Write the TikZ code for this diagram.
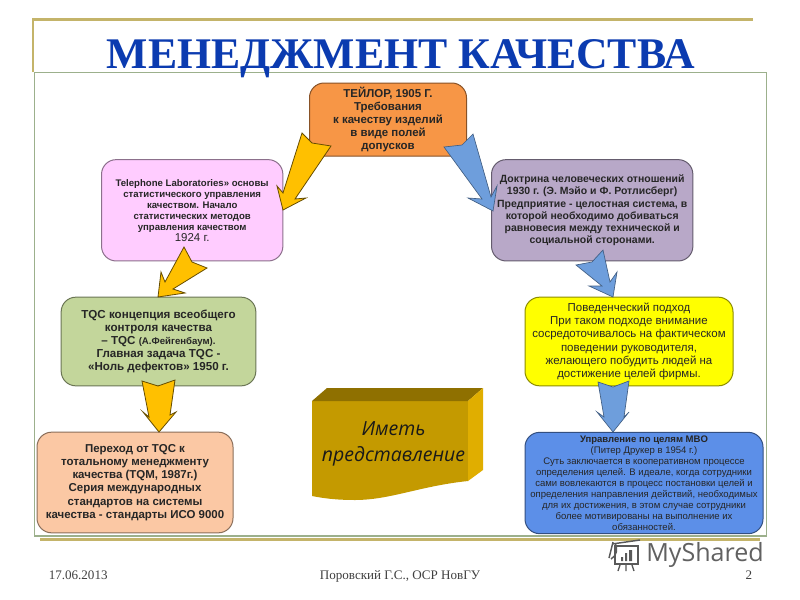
\documentclass[tikz,border=0pt]{standalone}
\usepackage{fontspec}
\setmainfont{Liberation Sans}
\newfontfamily\serifru{Liberation Serif}
\newfontfamily\handru{Open Sans}
\newcommand\fsz[2]{\fontsize{#1}{#2}\selectfont}
\definecolor{cOrange}{HTML}{F79646}
\definecolor{cPink}{HTML}{FFCCFF}
\definecolor{cPurple}{HTML}{B8A8C8}
\definecolor{cGreen}{HTML}{C3D69B}
\definecolor{cYellow}{HTML}{FFFF00}
\definecolor{cPeach}{HTML}{FBC8A4}
\definecolor{cBlue}{HTML}{5C8FE8}
\definecolor{cArrY}{HTML}{FFC000}
\definecolor{cArrB}{HTML}{6E9EDC}
\definecolor{cFrame}{HTML}{9CB08C}
\definecolor{cGold}{HTML}{C4B46A}
\definecolor{cTitle}{HTML}{0B3BB0}
\definecolor{cBlkF}{HTML}{C49A00}
\definecolor{cBlkT}{HTML}{8F7000}
\definecolor{cBlkR}{HTML}{E0AE00}
\tikzset{
  box/.style={draw=#1!55!black,line width=.75pt,rounded corners=11pt,inner sep=0pt,align=center,text=black!85,fill=#1},
  yarrow/.style={fill=cArrY,draw=black!60!cArrY,line width=.6pt,line join=miter},
  barrow/.style={fill=cArrB,draw=black!40!cArrB,line width=.5pt,line join=miter},
  foot/.style={inner sep=0pt,text=black!75,anchor=base,font=\serifru\fsz{9.8}{11}},
}
\begin{document}
\begin{tikzpicture}[x=.75pt,y=-.75pt]
\useasboundingbox (0,0) rectangle (800,600);
\fill[white] (0,0) rectangle (800,600);
% frames
\draw[cFrame,line width=.9pt] (34.5,72.5) rectangle (766.5,536);
\draw[cGold,line width=1.6pt] (33,72) -- (33,19.5) -- (753,19.5);
\draw[cGold,line width=1.8pt] (40,539.5) -- (760,539.5);
\node[inner sep=0pt,anchor=base,text=cTitle,font=\serifru\bfseries\fsz{32.8}{36}] (title) at (401,68) {МЕНЕДЖМЕНТ КАЧЕСТВА};
% boxes
\node[box=cOrange,minimum width=117.75pt,minimum height=54.75pt,font=\bfseries\fsz{8.6}{9.75}] (taylor) at (388,119.5)
 {ТЕЙЛОР, 1905 Г.\\Требования\\к качеству изделий\\в виде полей\\допусков};
\node[box=cPink,minimum width=136pt,minimum height=76pt,font=\bfseries\fsz{7.2}{8.25}] (tel) at (192.2,210.3)
 {Telephone Laboratories» основы\\статистического управления\\качеством. Начало\\статистических методов\\управления качеством\\{\mdseries\fsz{8.6}{9.5}1924 г.}};
\node[box=cPurple,minimum width=151pt,minimum height=76pt,font=\bfseries\fsz{7.85}{9.1}] (doc) at (592.2,210.3)
 {Доктрина человеческих отношений\\1930 г. (Э. Мэйо и Ф. Ротлисберг)\\Предприятие - целостная система, в\\которой необходимо добиваться\\равновесия между технической и\\социальной сторонами.};
\node[box=cGreen,minimum width=146pt,minimum height=66.5pt,font=\bfseries\fsz{8.7}{9.75}] (tqc) at (158.5,341.5)
 {TQC концепция всеобщего\\контроля качества\\– TQC {\fsz{7.2}{9.75}(А.Фейгенбаум).}\\Главная задача TQC -\\«Ноль дефектов» 1950 г.};
\node[box=cYellow,minimum width=156pt,minimum height=66.5pt,font=\fsz{8.6}{9.9}] (beh) at (629,341.5)
 {Поведенческий подход\\При таком подходе внимание\\сосредоточивалось на фактическом\\поведении руководителя,\\желающего побудить людей на\\достижение целей фирмы.};
\node[box=cPeach,minimum width=147pt,minimum height=75.5pt,font=\bfseries\fsz{8.6}{9.9}] (tqm) at (135,482.5)
 {Переход от TQC  к\\тотальному менеджменту\\качества (TQM, 1987г.)\\Серия международных\\стандартов на системы\\качества - стандарты ИСО 9000};
\node[box=cBlue,minimum width=178.5pt,minimum height=76pt,font=\fsz{7.15}{8.25}] (mbo) at (644,483)
 {{\bfseries Управление по целям MBO}\\(Питер Друкер в 1954 г.)\\Суть  заключается в кооперативном процессе\\определения целей.  В идеале, когда сотрудники\\сами вовлекаются в процесс постановки целей и\\определения направления действий, необходимых\\для их достижения, в этом случае сотрудники\\более мотивированы на выполнение их\\обязанностей.};
% block arrows
\path[yarrow] (302,133) -- (312,143) -- (331,146) -- (295,199) -- (306,198) -- (283,210) -- (277,186) -- (283,193) -- cycle;
\path[yarrow] (184,247) -- (192,262) -- (207,268) -- (173,289) -- (185,293) -- (158,297) -- (161,272) -- (165,282) -- cycle;
\path[yarrow] (142,381) -- (158,386) -- (175,380) -- (170,415) -- (176,412) -- (159,432) -- (143,412) -- (149,417) -- cycle;
\path[barrow] (473,134) -- (491,197) -- (497,186) -- (493,211) -- (468,198) -- (482,199) -- (444,147) -- (462,145) -- cycle;
\path[barrow] (603,250) -- (610,282) -- (617,272) -- (613,297) -- (589,286) -- (602,286) -- (576,265) -- (592,262) -- cycle;
\path[barrow] (598,382) -- (613,387) -- (629,381) -- (624,417) -- (629,412) -- (613,432) -- (597,412) -- (604,417) -- cycle;
% gold block
\fill[cBlkF] (312,401) -- (468,401) -- (468,481) .. controls (420,486) and (390,500) .. (355,500) .. controls (335,500) and (322,498) .. (312,496) -- cycle;
\fill[cBlkT] (312,401) -- (327,388) -- (483,388) -- (468,401) -- cycle;
\fill[cBlkR] (468,401) -- (483,388) -- (483,470) -- (468,481) -- cycle;
\node[inner sep=0pt,align=center,text=black!90,font=\handru\itshape\fsz{14.6}{19.5}] (have) at (393.5,444) {Иметь\\представление};
% footer
\node[foot,anchor=base west] (date) at (48.5,579) {17.06.2013};
\node[foot] (auth) at (400,579) {Поровский Г.С., ОСР НовГУ};
\node[foot] (num) at (749,579) {2};
% watermark
\draw[black!65,line width=1.1pt,rounded corners=1pt] (612,544) -- (640,540) (613,542) -- (609,558) (615,543) .. controls (618,548) and (617,556) .. (611,559);
\draw[black!65,line width=1.3pt] (615,546) -- (638,546) -- (638,564) -- (615,564) -- cycle;
\fill[black!65] (621,557) rectangle (623,561) (625,553) rectangle (627,561) (629,550) rectangle (632,561);
\draw[black!65,line width=1pt] (620,565) -- (618,571) (626,565) -- (626,571) (632,565) -- (634,571);
\node[inner sep=0pt,text=black!62,font=\handru\fsz{18.8}{24}] (brand) at (705,555) {MyShared};
\end{tikzpicture}
\end{document}
